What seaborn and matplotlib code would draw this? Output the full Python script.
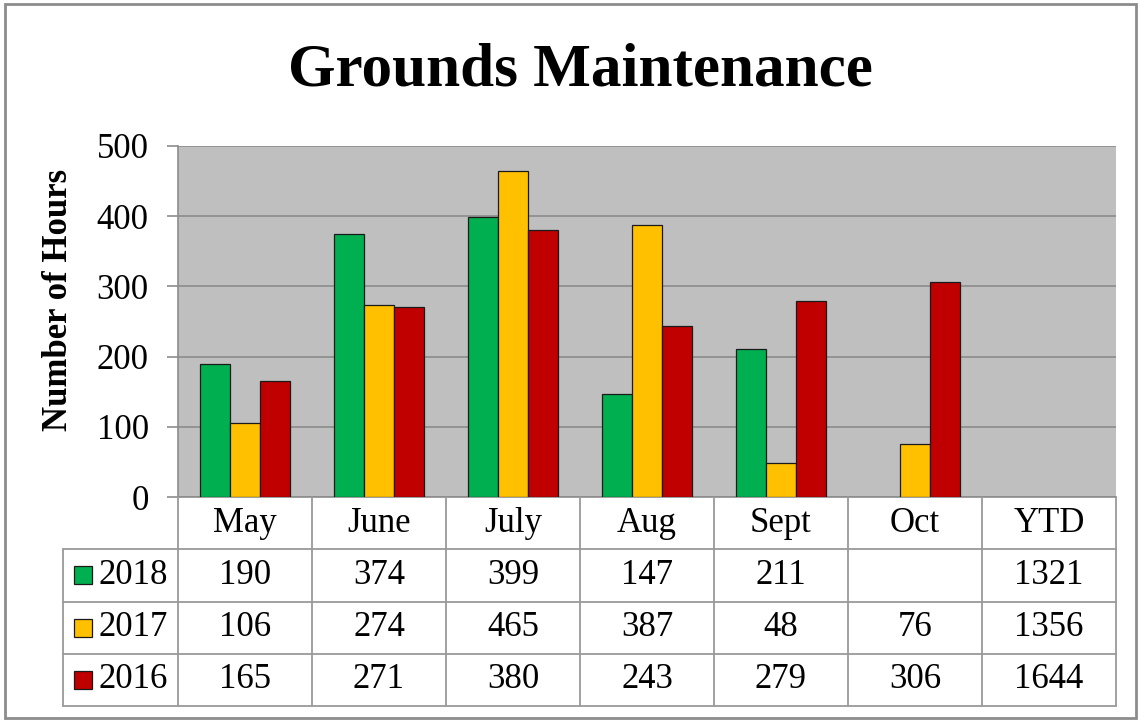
import matplotlib
matplotlib.use("Agg")
import matplotlib.pyplot as plt
import seaborn as sns
import pandas as pd
import numpy as np
from matplotlib.patches import Rectangle

# ---- data ----
months = ["May", "June", "July", "Aug", "Sept", "Oct"]
columns = months + ["YTD"]
years = ["2018", "2017", "2016"]
hours_2018 = [190, 374, 399, 147, 211, None]
hours_2017 = [106, 274, 465, 387, 48, 76]
hours_2016 = [165, 271, 380, 243, 279, 306]
ytd = {"2018": 1321, "2017": 1356, "2016": 1644}
colors = {"2018": "#00b050", "2017": "#ffc000", "2016": "#c00000"}

series = {"2018": hours_2018, "2017": hours_2017, "2016": hours_2016}
rows = []
for y in years:
    for m, v in zip(months, series[y]):
        rows.append({"month": m, "year": y, "hours": np.nan if v is None else v})
df = pd.DataFrame(rows)

sns.set_theme(style="white")
plt.rcParams["font.family"] = ["Liberation Serif", "DejaVu Serif"]
plt.rcParams["text.color"] = "black"
plt.rcParams["ytick.labelcolor"] = "black"
plt.rcParams["axes.labelcolor"] = "black"

W, H = 1140, 721
fig = plt.figure(figsize=(W / 100, H / 100), dpi=100)

# plot area
px_l, px_r, px_t, px_b = 178, 1116, 146, 497
ax = fig.add_axes([px_l / W, 1 - px_b / H, (px_r - px_l) / W, (px_b - px_t) / H])
ax.set_facecolor("#bfbfbf")
sns.barplot(data=df, x="month", y="hours", hue="year", order=columns,
            hue_order=years, palette=colors, saturation=1, width=90 / 134, gap=0,
            edgecolor="#1a1a1a", linewidth=0.9, ax=ax, legend=False, zorder=3)
ax.set_xlim(-0.5, len(columns) - 0.5)
ax.set_ylim(0, 500)
ax.set_yticks([0, 100, 200, 300, 400, 500])
ax.yaxis.grid(True, color="#8c8c8c", linewidth=1.2, zorder=0)
ax.set_axisbelow(True)
ax.set_xticks([])
ax.set_xlabel("")
ax.set_ylabel("Number of Hours", fontsize=25, fontweight="bold")
ax.yaxis.set_label_coords((75 - px_l) / (px_r - px_l), (px_b - 300) / (px_b - px_t))
ax.tick_params(axis="y", length=8, width=1.2, color="#8c8c8c", pad=13,
               labelsize=25, left=True, direction="out")
for s in ["top", "right"]:
    ax.spines[s].set_visible(False)
for s in ["left", "bottom"]:
    ax.spines[s].set_color("#8c8c8c")
    ax.spines[s].set_linewidth(1.2)

fig.text(580 / W, 1 - 71 / H, "Grounds Maintenance", fontsize=44,
         fontweight="bold", ha="center", va="center")

# data table
tbl_l, tbl_b = 63, 706
ax_t = fig.add_axes([tbl_l / W, 1 - tbl_b / H, (px_r - tbl_l) / W, (tbl_b - px_b) / H])
xmin = -0.5 - (px_l - tbl_l) / 134
ax_t.set_xlim(xmin, len(columns) - 0.5)
ax_t.set_ylim(4, 0)
ax_t.axis("off")
lc = "#9a9a9a"
lw = 1.3
for i in range(len(columns) + 1):
    ax_t.plot([i - 0.5, i - 0.5], [0, 4], color=lc, lw=lw, clip_on=False)
ax_t.plot([xmin, xmin], [1, 4], color=lc, lw=lw, clip_on=False)
for r in range(1, 5):
    ax_t.plot([xmin, len(columns) - 0.5], [r, r], color=lc, lw=lw, clip_on=False)

fs = 25
for i, c in enumerate(columns):
    ax_t.text(i, 0.5, c, ha="center", va="center", fontsize=fs)
for r, y in enumerate(years, start=1):
    vals = series[y] + [ytd[y]]
    for i, v in enumerate(vals):
        if v is not None:
            ax_t.text(i, r + 0.5, str(v), ha="center", va="center", fontsize=fs)
    ax_t.add_patch(Rectangle((xmin + 11 / 134, r + 0.5 - 9 / 52), 18 / 134, 18 / 52,
                             facecolor=colors[y], edgecolor="#1a1a1a", lw=0.9,
                             clip_on=False))
    ax_t.text(xmin + 36 / 134, r + 0.5, y, ha="left", va="center", fontsize=fs)

# outer border
fig.add_artist(Rectangle((5 / W, 3 / H), 1131 / W, 714 / H, transform=fig.transFigure,
                         fill=False, edgecolor="#8c8c8c", lw=2))

fig.savefig("out.png", dpi=100)
